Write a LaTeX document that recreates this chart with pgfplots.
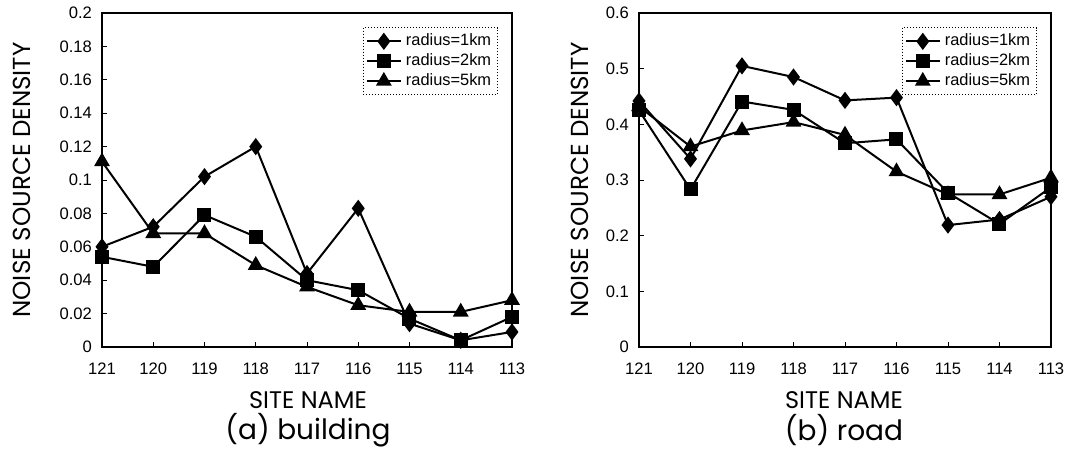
\documentclass[border=0pt]{standalone}
\usepackage{pgfplots}
\pgfplotsset{compat=1.18}
\usepackage{fontspec}
\setmainfont{Liberation Sans}
\newfontfamily\geo{Poppins}
\begin{document}
\begin{tikzpicture}
\path[use as bounding box] (0,0) rectangle (536pt,226.5pt);
\pgfplotsset{
  every axis/.append style={
    scale only axis,
    xmin=0, xmax=8,
    xtick={0,1,2,3,4,5,6,7,8},
    xticklabels={121,120,119,118,117,116,115,114,113},
    tick align=inside,
    xtick pos=bottom, ytick pos=left,
    major tick length=2.5pt,
    tick style={black, thin},
    axis line style={black, line width=0.9pt},
    ticklabel style={font=\fontsize{8.3}{9}\selectfont},
    x tick label style={yshift=-4.5pt},
    y tick label style={xshift=-1.5pt},
    legend style={font=\fontsize{8.2}{10}\selectfont, draw=black, densely dotted, line width=0.5pt,
      at={(0.966,0.958)}, anchor=north east, row sep=-1.5pt, inner sep=1.2pt,
      /tikz/every even column/.append style={column sep=0.5pt}},
    legend cell align=left,
    legend image post style={solid},
    every axis plot/.append style={black, line width=1pt, solid},
  }
}
% ---------------- (a) building ----------------
\begin{axis}[
  at={(51pt,53pt)}, anchor=south west,
  width=205pt, height=167pt,
  ymin=0, ymax=0.2,
  ytick={0,0.02,0.04,0.06,0.08,0.1,0.12,0.14,0.16,0.18,0.2},
  yticklabels={0,0.02,0.04,0.06,0.08,0.1,0.12,0.14,0.16,0.18,0.2},
]
\addplot[mark=diamond*, mark size=3.5pt] coordinates {
 (0,0.060) (1,0.072) (2,0.102) (3,0.120) (4,0.044) (5,0.083) (6,0.014) (7,0.004) (8,0.009)};
\addlegendentry{radius=1km}
\addplot[mark=square*, mark size=3pt] coordinates {
 (0,0.054) (1,0.048) (2,0.079) (3,0.066) (4,0.040) (5,0.034) (6,0.017) (7,0.004) (8,0.018)};
\addlegendentry{radius=2km}
\addplot[mark=triangle*, mark size=3.6pt] coordinates {
 (0,0.111) (1,0.068) (2,0.068) (3,0.049) (4,0.036) (5,0.025) (6,0.021) (7,0.021) (8,0.028)};
\addlegendentry{radius=5km}
\end{axis}
% ---------------- (b) road ----------------
\begin{axis}[
  at={(319.5pt,53pt)}, anchor=south west,
  width=206pt, height=167pt,
  ymin=0, ymax=0.6,
  ytick={0,0.1,0.2,0.3,0.4,0.5,0.6},
  yticklabels={0,0.1,0.2,0.3,0.4,0.5,0.6},
]
\addplot[mark=diamond*, mark size=3.5pt] coordinates {
 (0,0.442) (1,0.338) (2,0.505) (3,0.485) (4,0.443) (5,0.448) (6,0.219) (7,0.229) (8,0.270)};
\addlegendentry{radius=1km}
\addplot[mark=square*, mark size=3pt] coordinates {
 (0,0.425) (1,0.283) (2,0.441) (3,0.426) (4,0.366) (5,0.373) (6,0.277) (7,0.221) (8,0.287)};
\addlegendentry{radius=2km}
\addplot[mark=triangle*, mark size=3.6pt] coordinates {
 (0,0.432) (1,0.360) (2,0.389) (3,0.404) (4,0.381) (5,0.315) (6,0.274) (7,0.274) (8,0.304)};
\addlegendentry{radius=5km}
\end{axis}
% labels and captions
\node[rotate=90, font=\geo\fontsize{12.3}{14}\selectfont] at (11pt,136.5pt) {NOISE SOURCE DENSITY};
\node[rotate=90, font=\geo\fontsize{12.3}{14}\selectfont] at (290pt,136.5pt) {NOISE SOURCE DENSITY};
\node[font=\geo\fontsize{12}{14}\selectfont] at (154pt,26.5pt) {SITE NAME};
\node[font=\geo\fontsize{12}{14}\selectfont] at (422pt,26.5pt) {SITE NAME};
\node[font=\geo\fontsize{14}{16}\selectfont] at (154pt,11.5pt) {(a) building};
\node[font=\geo\fontsize{14}{16}\selectfont] at (422pt,11.5pt) {(b) road};
\end{tikzpicture}
\end{document}
